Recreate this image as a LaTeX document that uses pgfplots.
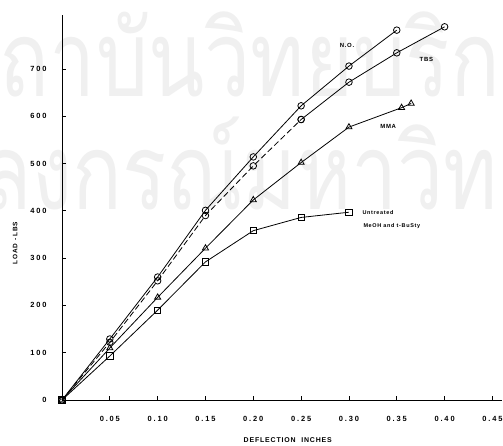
\documentclass[border=0pt]{standalone}
\usepackage{fontspec}
\setmainfont{Liberation Sans}
\newfontfamily\thaifont[Script=Thai]{Loma}
\newfontfamily\lbl[LetterSpace=25]{Liberation Sans}
\newfontfamily\lbs[LetterSpace=12]{Liberation Sans}
\usepackage{graphicx}
\usepackage{pgfplots}
\pgfplotsset{compat=1.18}
\begin{document}
\begin{tikzpicture}
\useasboundingbox (-62bp,-46bp) rectangle (441bp,400bp);
% faint watermark of the scanned page
\node[text=black!6, anchor=base, inner sep=0pt] at (208bp,303bp)
  {\scalebox{0.78}[1]{\thaifont\fontsize{106}{106}\selectfont สถาบันวิทยบริการ}};
\node[text=black!6, anchor=base, inner sep=0pt] at (199bp,190bp)
  {\scalebox{0.78}[1]{\thaifont\fontsize{106}{106}\selectfont จุฬาลงกรณ์มหาวิทยาลัย}};
\begin{axis}[
  scale only axis, width=440bp, height=385bp,
  xmin=0, xmax=0.46, ymin=0, ymax=814,
  axis lines=left, axis line style={-, line width=0.9pt},
  tick align=inside, major tick length=4bp,
  tick style={line width=0.8pt, black},
  xtick={0.05,0.10,0.15,0.20,0.25,0.30,0.35,0.40,0.45},
  xticklabels={0.05,0.10,0.15,0.20,0.25,0.30,0.35,0.40,0.45},
  ytick={0,100,200,300,400,500,600,700},
  yticklabels={0,100,200,300,400,500,600,700},
  ticklabel style={font=\lbl\bfseries\fontsize{7.5}{8}\selectfont},
  xticklabel style={yshift=-13bp},
  yticklabel style={xshift=-12bp},
  clip=false,
  every axis plot/.append style={black, line width=0.8pt},
]
% N.O.
\addplot[mark=o, mark size=3.3pt, mark options={solid, fill=white}] coordinates {
 (0,0) (0.05,129) (0.10,260) (0.15,401) (0.20,514) (0.25,622) (0.30,706) (0.35,782)};
% TBS (dashed lower part)
\addplot[dashed, dash pattern=on 6pt off 3pt, mark=o, mark size=3.3pt, mark options={solid, fill=white}] coordinates {
 (0,0) (0.05,122) (0.10,252) (0.15,390) (0.20,495) (0.25,593)};
\addplot[mark=o, mark size=3.3pt, mark options={solid, fill=white}] coordinates {
 (0.25,593) (0.30,672) (0.35,734) (0.40,789)};
% MMA
\addplot[mark=triangle, mark size=3.5pt, mark options={solid, fill=white}] coordinates {
 (0,0) (0.05,110) (0.10,217) (0.15,321) (0.20,423) (0.25,502) (0.30,577) (0.355,618) (0.365,627)};
% Untreated
\addplot[mark=square, mark size=3.2pt, mark options={solid, fill=white}] coordinates {
 (0,0) (0.05,93) (0.10,190) (0.15,292) (0.20,358) (0.25,386) (0.30,397)};
% labels
\node[font=\lbs\bfseries\fontsize{6}{6}\selectfont] at (axis cs:0.298,750) {N.O.};
\node[font=\lbs\bfseries\fontsize{6}{6}\selectfont] at (axis cs:0.381,719) {TBS};
\node[font=\lbs\bfseries\fontsize{6}{6}\selectfont] at (axis cs:0.341,579) {MMA};
\node[font=\lbs\bfseries\fontsize{5.5}{6}\selectfont, anchor=west, inner sep=0pt] at (axis cs:0.314,397) {Untreated};
\node[font=\lbs\bfseries\fontsize{5.5}{6}\selectfont, anchor=west, inner sep=0pt] at (axis cs:0.315,368) {MeOH and t-BuSty};
\node[font=\lbs\bfseries\fontsize{7}{7}\selectfont] at (axis cs:0.236,-85) {DEFLECTION\ \ INCHES};
\node[font=\lbs\bfseries\fontsize{6.5}{7}\selectfont, rotate=90] at (axis cs:-0.049,332) {LOAD - LBS};
\end{axis}
\end{tikzpicture}
\end{document}
